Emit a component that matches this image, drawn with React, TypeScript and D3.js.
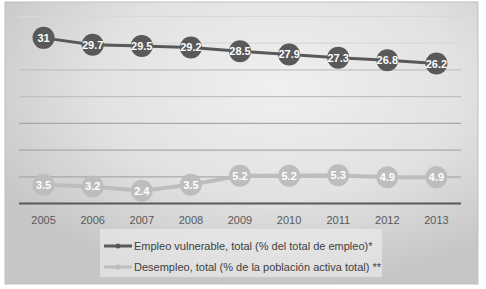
import React from "react";
import * as d3 from "d3";

const years = ["2005", "2006", "2007", "2008", "2009", "2010", "2011", "2012", "2013"];
const vulnerable = [31, 29.7, 29.5, 29.2, 28.5, 27.9, 27.3, 26.8, 26.2];
const unemployment = [3.5, 3.2, 2.4, 3.5, 5.2, 5.2, 5.3, 4.9, 4.9];
const yTicks = [0, 5, 10, 15, 20, 25, 30, 35];
const seriesNames = [
  "Empleo vulnerable, total (% del total de empleo)*",
  "Desempleo, total (% de la población activa total) **",
];

const W = 486;
const H = 289;
const DARK = "#595959";
const LIGHT = "#bdbdbd";
const FONT = "'Liberation Sans', Arial, sans-serif";

export default function App() {
  const x = d3.scaleBand<string>().domain(years).range([19, 461]).padding(0);
  const cx = (d: string) => (x(d) as number) + x.bandwidth() / 2;
  const y = d3.scaleLinear().domain([0, 35]).range([203.5, 16.5]);

  const lineGen = d3
    .line<number>()
    .x((_, i) => cx(years[i]))
    .y((v) => y(v));

  const series = [
    { name: seriesNames[0], values: vulnerable, color: DARK, width: 3 },
    { name: seriesNames[1], values: unemployment, color: LIGHT, width: 4 },
  ];

  const lastU = unemployment[unemployment.length - 1];

  return (
    <div style={{ position: "absolute", left: 0, top: 0 }}>
      <svg width={W} height={H} style={{ display: "block" }}>
        <defs>
          <radialGradient id="bg" cx="58%" cy="30%" r="70%">
            <stop offset="0%" stopColor="#f0f0f0" />
            <stop offset="55%" stopColor="#e2e2e2" />
            <stop offset="100%" stopColor="#c6c6c6" />
          </radialGradient>
        </defs>
        <rect x={0} y={0} width={W} height={H} fill="#ffffff" />
        <rect x={5} y={2} width={473} height={282} fill="url(#bg)" stroke="#c0c0c0" strokeWidth={1} />
        {yTicks.slice(1).map((t) => (
          <line
            key={t}
            x1={x.range()[0]}
            x2={x.range()[1]}
            y1={y(t)}
            y2={y(t)}
            stroke={t >= 30 ? "#d8d8d8" : t >= 20 ? "#c0c0c0" : "#a8a8a8"}
            strokeWidth={1.2}
          />
        ))}
        <line
          x1={x.range()[0]}
          x2={x.range()[1]}
          y1={y(0)}
          y2={y(0)}
          stroke={DARK}
          strokeWidth={2.2}
        />
        {years.map((yr) => (
          <text
            key={yr}
            x={cx(yr)}
            y={y(0) + 20}
            textAnchor="middle"
            fontFamily={FONT}
            fontSize={11}
            fill="#595959"
          >
            {yr}
          </text>
        ))}
        <line
          x1={cx(years[years.length - 1])}
          x2={x.range()[1]}
          y1={y(lastU)}
          y2={y(lastU)}
          stroke={LIGHT}
          strokeWidth={2}
        />
        {series.map((s) => (
          <g key={s.name}>
            <path d={lineGen(s.values) || ""} fill="none" stroke={s.color} strokeWidth={s.width} />
            {s.values.map((v, i) => (
              <g key={i}>
                <circle cx={cx(years[i])} cy={y(v)} r={11} fill={s.color} />
                <text
                  x={cx(years[i])}
                  y={y(v) + 4}
                  textAnchor="middle"
                  fontFamily={FONT}
                  fontSize={11}
                  fontWeight="bold"
                  fill="#ffffff"
                >
                  {v}
                </text>
              </g>
            ))}
          </g>
        ))}
        <rect x={100} y={229} width={282} height={48} fill="#eeeeee" opacity={0.6} />
        {series.map((s, i) => (
          <g key={s.name} transform={`translate(104, ${246 + i * 21})`}>
            <line x1={0} x2={28} y1={0} y2={0} stroke={s.color} strokeWidth={3} />
            <circle cx={14} cy={0} r={2.5} fill={s.color} />
            <text x={30} y={4} fontFamily={FONT} fontSize={11} fill="#404040">
              {s.name}
            </text>
          </g>
        ))}
      </svg>
    </div>
  );
}
